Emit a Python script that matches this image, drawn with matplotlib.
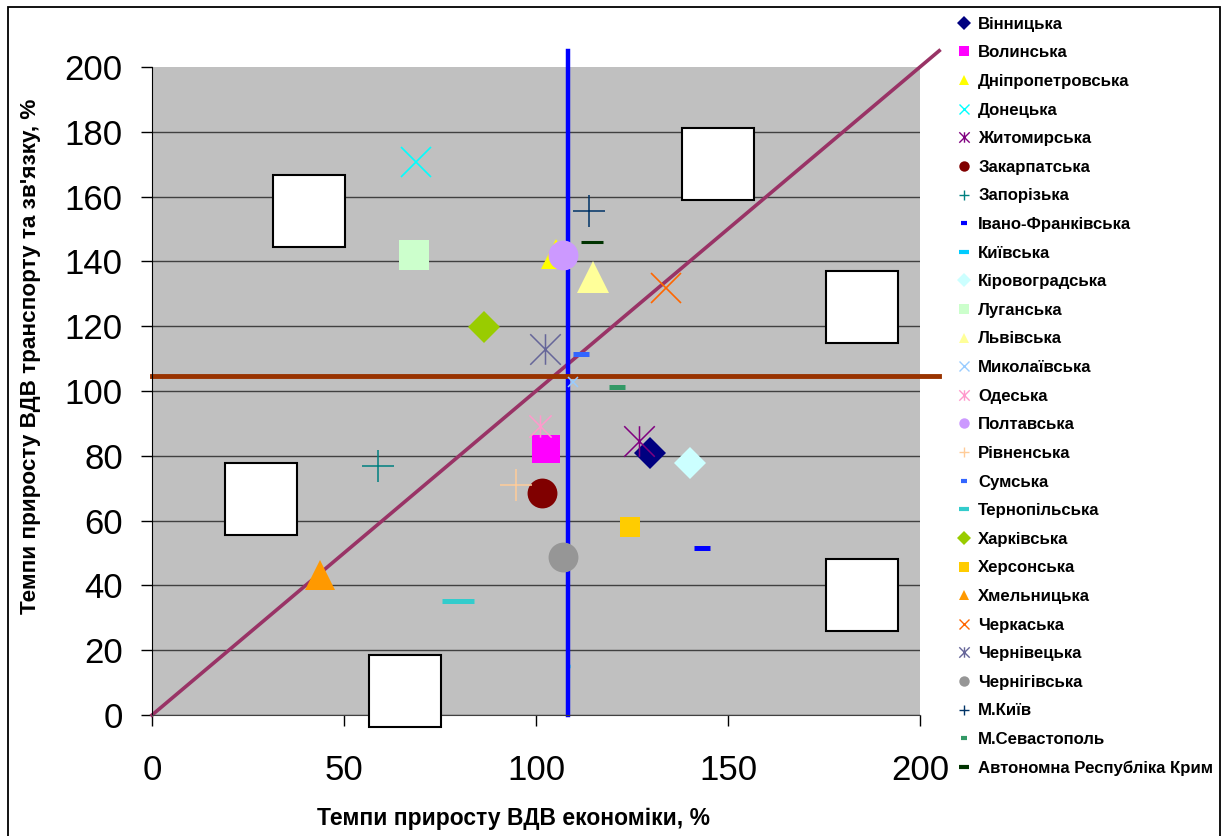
import matplotlib.pyplot as plt
from matplotlib.path import Path
from matplotlib.lines import Line2D
from matplotlib.patches import Rectangle

plt.rcParams['font.family'] = ['Liberation Sans', 'DejaVu Sans']

# === DATA === #
regions = ["Вінницька", "Волинська", "Дніпропетровська", "Донецька", "Житомирська",
           "Закарпатська", "Запорізька", "Івано-Франківська", "Київська", "Кіровоградська",
           "Луганська", "Львівська", "Миколаївська", "Одеська", "Полтавська",
           "Рівненська", "Сумська", "Тернопільська", "Харківська", "Херсонська",
           "Хмельницька", "Черкаська", "Чернівецька", "Чернігівська", "М.Київ",
           "М.Севастополь", "Автономна Республіка Крим"]
gdp_econ = [129.7, 102.5, 105.1, 68.8, 126.8,
            101.6, 58.8, 143.3, 108.3, 140.2,
            68.1, 114.9, 109.7, 101.0, 106.9,
            94.8, 111.7, 79.7, 86.5, 124.6,
            43.8, 133.9, 102.3, 106.9, 113.8,
            121.2, 114.5]
gdp_transport = [81.0, 82.0, 142.3, 170.7, 84.6,
                 68.4, 76.9, 51.4, 15.0, 77.9,
                 141.9, 135.3, 102.8, 89.3, 141.9,
                 70.9, 111.5, 35.1, 119.9, 58.1,
                 43.2, 131.8, 113.0, 48.7, 155.6,
                 101.1, 146.1]

# empty label boxes
box_x = [41.0, 147.4, 184.8, 28.5, 184.8, 66.0]
box_y = [155.6, 170.2, 125.9, 66.7, 36.9, 7.4]

avg_econ = 108.3
avg_transport = 104.6
line_end = 205

# === STYLES === #
STAR = Path([(-1, -1), (1, 1), (-1, 1), (1, -1), (0, -1), (0, 1)],
            [Path.MOVETO, Path.LINETO, Path.MOVETO, Path.LINETO, Path.MOVETO, Path.LINETO])

# (marker, colour, size, edge width) per region
styles = [
    ("D", "#000080", 16, 0), ("s", "#FF00FF", 19.5, 0), ("^", "#FFFF00", 22, 0),
    ("x", "#00FFFF", 22, 1.2), (STAR, "#800080", 22, 1.1), ("o", "#800000", 21.5, 0),
    ("+", "#008080", 22.5, 1.1), ("_", "#0000FF", 12, 3.6), ("_", "#00CCFF", 2.5, 2.5),
    ("D", "#CCFFFF", 16, 0), ("s", "#CCFFCC", 21.5, 0), ("^", "#FFFF99", 22.5, 0),
    ("x", "#99CCFF", 7, 1.1), (STAR, "#FF99CC", 16, 1.1), ("o", "#CC99FF", 21.5, 0),
    ("+", "#FFCC99", 22.5, 1.1), ("_", "#3366FF", 12, 3.6), ("_", "#33CCCC", 23, 3.6),
    ("D", "#99CC00", 16, 0), ("s", "#FFCC00", 15, 0), ("^", "#FF9900", 22, 0),
    ("x", "#FF6600", 22, 1.2), (STAR, "#666699", 22, 1.1), ("o", "#969696", 21.5, 0),
    ("+", "#003366", 22.5, 1.1), ("_", "#339966", 12, 3.6), ("_", "#003300", 16.5, 2.2),
]

# === FIGURE === #
fig = plt.figure(figsize=(12.27, 8.36), dpi=100)
ax = fig.add_axes([0.1239, 0.1447, 0.6259, 0.7752])
ax.set_facecolor("#C0C0C0")
ax.set_xlim(0, 200)
ax.set_ylim(0, 200)

ax.set_yticks(range(0, 201, 20))
ax.set_xticks(range(0, 201, 50))
ax.tick_params(axis="both", labelsize=25, length=8, width=1, colors="black")
ax.tick_params(axis="x", pad=20)
ax.tick_params(axis="y", pad=13)
ax.grid(axis="y", color="#404040", linewidth=1)
ax.yaxis.get_gridlines()[-1].set_visible(False)
ax.set_axisbelow(True)
for side in ("top", "right"):
    ax.spines[side].set_visible(False)
ax.spines["left"].set_color("black")
ax.spines["bottom"].set_color("#404040")

# reference lines
ax.plot([0, line_end], [0, line_end], color="#993366", linewidth=2.6, clip_on=False, zorder=2)
ax.plot([avg_econ, avg_econ], [0, line_end], color="#0000FF", linewidth=3.2, clip_on=False, zorder=2)
ax.plot([0, line_end], [avg_transport, avg_transport], color="#993300", linewidth=3.5,
        clip_on=False, zorder=2.5)

# boxes
ax.plot(box_x, box_y, linestyle="none", marker="s", markersize=52, markerfacecolor="white",
        markeredgecolor="black", markeredgewidth=1.5, clip_on=False, zorder=3)

# regions
handles = []
for i, (name, x, y) in enumerate(zip(regions, gdp_econ, gdp_transport)):
    m, c, s, w = styles[i]
    z = 1.9 if name == "Київська" else 4 + i * 0.01
    ax.plot([x], [y], linestyle="none", marker=m, markersize=s, color=c,
            markeredgewidth=w, zorder=z)
    if m == "_":
        hs, hw = (7, 3.0) if name in ("Київська", "Тернопільська", "Автономна Республіка Крим") else (4.5, 3.0)
    else:
        hs, hw = 7.5, min(w, 1.0)
    handles.append(Line2D([], [], linestyle="none", marker=m, markersize=hs, color=c,
                          markeredgewidth=hw))

ax.set_xlabel("Темпи приросту ВДВ економіки, %", fontsize=16.5, fontweight="bold")
ax.xaxis.set_label_coords(0.471, -0.16)
ax.xaxis.label.set_va("center")
ax.set_ylabel("Темпи приросту ВДВ транспорту та зв'язку, %", fontsize=16.2, fontweight="bold")
ax.yaxis.set_label_coords(-0.158, 0.554)
ax.yaxis.label.set_va("center")

fig.legend(handles, regions, loc="upper left", bbox_to_anchor=(0.774, 0.988), frameon=False,
           prop={"size": 12.1, "weight": "bold"}, labelspacing=0.81, handlelength=0.9,
           handletextpad=0.4, borderaxespad=0)

# chart border
fig.add_artist(Rectangle((8 / 1227, -0.01), (1220 - 8) / 1227, 1 - 7 / 836 + 0.01,
                         transform=fig.transFigure, fill=False, edgecolor="black", linewidth=1.3))

fig.savefig("out.png", dpi=100)
